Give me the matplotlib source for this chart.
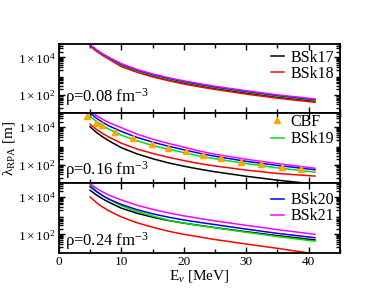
import matplotlib
matplotlib.use("Agg")
import matplotlib.pyplot as plt
import numpy as np
from matplotlib.ticker import LogLocator, FixedLocator, MultipleLocator, NullFormatter

plt.rcParams['font.family'] = ['Liberation Serif', 'DejaVu Serif']
plt.rcParams['mathtext.fontset'] = 'custom'
plt.rcParams['mathtext.rm'] = 'Liberation Serif'
plt.rcParams['mathtext.it'] = 'Liberation Serif:italic'

# neutrino energy grid (MeV) at which curves were read
energy = [5, 6, 7, 8, 10, 12.5, 15, 17.5, 20, 22.5, 25, 30, 35, 41]

# log10(lambda_RPA / m)
# rho = 0.08 fm^-3
p1_bsk17 = [4.63, 4.35, 4.12, 3.93, 3.55, 3.24, 3.00, 2.80, 2.62, 2.47, 2.33, 2.09, 1.87, 1.65]
p1_bsk18 = [4.61, 4.33, 4.10, 3.90, 3.50, 3.20, 2.95, 2.75, 2.57, 2.42, 2.28, 2.03, 1.81, 1.59]
p1_bsk19 = [4.64, 4.37, 4.14, 3.95, 3.59, 3.28, 3.04, 2.84, 2.67, 2.52, 2.38, 2.14, 1.92, 1.70]
p1_bsk20 = [4.66, 4.39, 4.17, 3.98, 3.63, 3.32, 3.08, 2.88, 2.71, 2.56, 2.42, 2.18, 1.96, 1.74]
p1_bsk21 = [4.67, 4.41, 4.19, 4.00, 3.66, 3.35, 3.11, 2.91, 2.74, 2.59, 2.45, 2.21, 1.99, 1.77]

# rho = 0.16 fm^-3
p2_bsk17 = [4.02, 3.72, 3.48, 3.27, 2.90, 2.57, 2.31, 2.09, 1.91, 1.75, 1.61, 1.37, 1.16, 0.95]
p2_bsk18 = [4.15, 3.88, 3.66, 3.47, 3.14, 2.83, 2.59, 2.39, 2.21, 2.05, 1.92, 1.70, 1.52, 1.38]
p2_bsk19 = [4.58, 4.30, 4.08, 3.89, 3.57, 3.27, 3.02, 2.82, 2.64, 2.45, 2.31, 2.05, 1.82, 1.59]
p2_bsk20 = [4.76, 4.48, 4.26, 4.07, 3.77, 3.45, 3.20, 2.98, 2.79, 2.60, 2.44, 2.17, 1.95, 1.72]
p2_bsk21 = [4.85, 4.62, 4.42, 4.25, 3.97, 3.63, 3.36, 3.13, 2.93, 2.72, 2.55, 2.28, 2.05, 1.80]

cbf_energy = [4.5, 6.0, 6.9, 9.0, 11.8, 14.9, 17.5, 20.3, 23.0, 25.9, 29.2, 32.4, 35.8, 38.8]
cbf_lambda = [4.62, 4.23, 4.10, 3.73, 3.42, 3.10, 2.90, 2.70, 2.51, 2.35, 2.13, 2.01, 1.89, 1.77]

# rho = 0.24 fm^-3
p3_bsk17 = [4.36, 4.11, 3.90, 3.72, 3.40, 3.13, 2.92, 2.74, 2.60, 2.48, 2.36, 2.14, 1.93, 1.70]
p3_bsk18 = [4.00, 3.70, 3.46, 3.26, 2.93, 2.62, 2.38, 2.17, 2.00, 1.86, 1.72, 1.48, 1.25, 0.95]
p3_bsk19 = [4.66, 4.33, 4.08, 3.87, 3.53, 3.22, 2.98, 2.76, 2.60, 2.47, 2.35, 2.11, 1.88, 1.63]
p3_bsk20 = [4.55, 4.29, 4.07, 3.89, 3.60, 3.32, 3.10, 2.92, 2.77, 2.64, 2.52, 2.28, 2.05, 1.82]
p3_bsk21 = [4.72, 4.47, 4.27, 4.10, 3.84, 3.56, 3.34, 3.15, 2.99, 2.85, 2.72, 2.48, 2.25, 2.00]

densities = ['0.08', '0.16', '0.24']
panels = [
    [p1_bsk17, p1_bsk18, p1_bsk19, p1_bsk20, p1_bsk21],
    [p2_bsk17, p2_bsk18, p2_bsk19, p2_bsk20, p2_bsk21],
    [p3_bsk17, p3_bsk18, p3_bsk19, p3_bsk20, p3_bsk21],
]
names = ['BSk17', 'BSk18', 'BSk19', 'BSk20', 'BSk21']
colors = ['black', 'red', '#00e000', 'blue', 'magenta']
legend_sets = [['BSk17', 'BSk18'], ['CBF', 'BSk19'], ['BSk20', 'BSk21']]
legend_top = [0.91, 0.99, 0.87]
legend_gap = [0.0, 0.08, 0.0]
rho_y = [0.16, 0.12, 0.10]

fig = plt.figure(figsize=(3.85, 2.98), dpi=100)
gs = fig.add_gridspec(3, 1, left=0.153, right=0.883, top=0.854, bottom=0.151, hspace=0)

for i in range(3):
    ax = fig.add_subplot(gs[i])
    handles = {}
    # black drawn first, magenta last
    for name, col, vals in zip(names, colors, panels[i]):
        ln, = ax.plot(energy, 10 ** np.array(vals), color=col, lw=1.1)
        handles[name] = ln
    if i == 1:
        sc, = ax.plot(cbf_energy, 10 ** np.array(cbf_lambda), ls='none', marker='^',
                      color='orange', ms=5, mec='orange')
        handles['CBF'] = sc

    ax.set_yscale('log')
    ax.set_xlim(0, 45)
    ax.set_ylim(10, 5.5e4)
    ax.yaxis.set_major_locator(FixedLocator([1e2, 1e4]))
    ax.yaxis.set_minor_locator(LogLocator(base=10, subs=np.arange(2, 10), numticks=20))
    ax.yaxis.set_minor_formatter(NullFormatter())
    ax.set_yticklabels([r'$1\times10^{2}$', r'$1\times10^{4}$'])
    ax.xaxis.set_major_locator(MultipleLocator(10))
    ax.xaxis.set_minor_locator(MultipleLocator(5))
    ax.tick_params(which='both', direction='in', top=True, right=True, width=1.0)
    ax.tick_params(which='major', length=4, labelsize=9.5, pad=2.5)
    ax.tick_params(which='minor', length=3)
    for sp in ax.spines.values():
        sp.set_linewidth(1.3)
    if i < 2:
        ax.tick_params(labelbottom=False)

    ax.text(0.022, rho_y[i], 'ρ=' + densities[i] + r' fm$^{-3}$', transform=ax.transAxes,
            fontsize=12, va='baseline', ha='left')

    labs = legend_sets[i]
    ax.legend([handles[l] for l in labs], labs, loc='upper right',
              bbox_to_anchor=(0.978, legend_top[i]), frameon=False,
              fontsize=11.5, handlelength=0.8, handletextpad=0.4, labelspacing=legend_gap[i],
              borderaxespad=0, borderpad=0, markerscale=1.0)

    if i == 1:
        ax.set_ylabel(r'λ$_{\mathrm{RPA}}$ [m]', fontsize=11)
        ax.yaxis.set_label_coords(-0.15, 0.5)
    if i == 2:
        ax.set_xlabel(r'E$_{\nu}$ [MeV]', fontsize=11, labelpad=0)

fig.savefig('out.png', dpi=100)
